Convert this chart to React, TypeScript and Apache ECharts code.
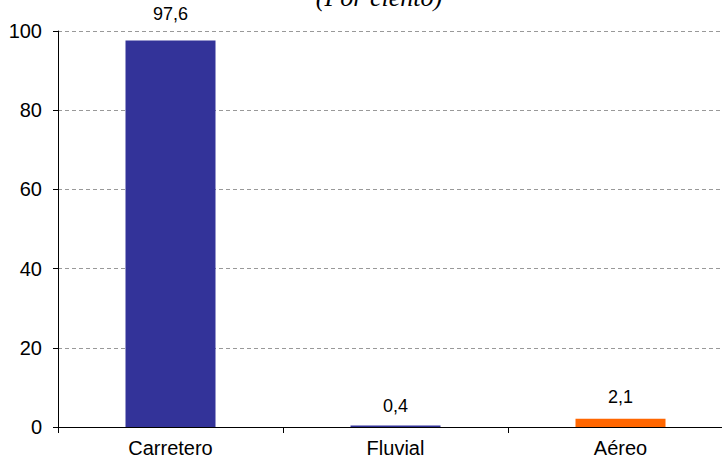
import React, { useEffect, useRef } from "react";
import * as echarts from "echarts";

const categories = ["Carretero", "Fluvial", "Aéreo"];
const values = [97.6, 0.4, 2.1];
const barColors = ["#333399", "#333399", "#FF6600"];
const labelGaps = [18, 10, 13];
const yTicks = [0, 20, 40, 60, 80, 100];
const title = "(Por ciento)";

export default function App() {
  const ref = useRef<HTMLDivElement>(null);
  useEffect(() => {
    document.body.style.margin = "0";
    const chart = echarts.init(ref.current!, null, { renderer: "svg" });
    chart.setOption({
      animation: false,
      backgroundColor: "#ffffff",
      title: {
        text: title,
        left: 374,
        textAlign: "center",
        top: -21,
        textStyle: {
          fontFamily: "Liberation Serif",
          fontStyle: "italic",
          fontWeight: "normal",
          fontSize: 26,
          color: "#000",
        },
      },
      grid: { left: 58, right: 0, top: 31, bottom: 33, containLabel: false },
      xAxis: {
        type: "category",
        data: categories,
        axisLine: { lineStyle: { color: "#000", width: 1 } },
        axisTick: { show: true, length: 6, lineStyle: { color: "#000" } },
        axisLabel: {
          fontFamily: "Liberation Sans",
          fontSize: 20,
          color: "#000",
          margin: 11,
        },
      },
      yAxis: {
        type: "value",
        min: yTicks[0],
        max: yTicks[yTicks.length - 1],
        interval: 20,
        axisLine: { show: true, lineStyle: { color: "#000", width: 1 } },
        axisTick: { show: true, length: 5, lineStyle: { color: "#000" } },
        axisLabel: {
          fontFamily: "Liberation Sans",
          fontSize: 20,
          color: "#000",
          margin: 16,
        },
        splitLine: {
          show: true,
          lineStyle: { color: "#999999", type: [4, 3], width: 1 },
        },
      },
      series: [
        {
          type: "bar",
          barWidth: "40%",
          data: values.map((v, i) => ({
            value: v,
            itemStyle: { color: barColors[i] },
            label: { distance: labelGaps[i] },
          })),
          label: {
            show: true,
            position: "top",
            fontFamily: "Liberation Sans",
            fontSize: 18,
            color: "#000",
            formatter: (p: any) => String(p.value).replace(".", ","),
          },
        },
      ],
    });
    return () => chart.dispose();
  }, []);
  return (
    <div style={{ width: 722, height: 460, overflow: "hidden" }}>
      <div ref={ref} style={{ width: 733, height: 460 }} />
    </div>
  );
}
